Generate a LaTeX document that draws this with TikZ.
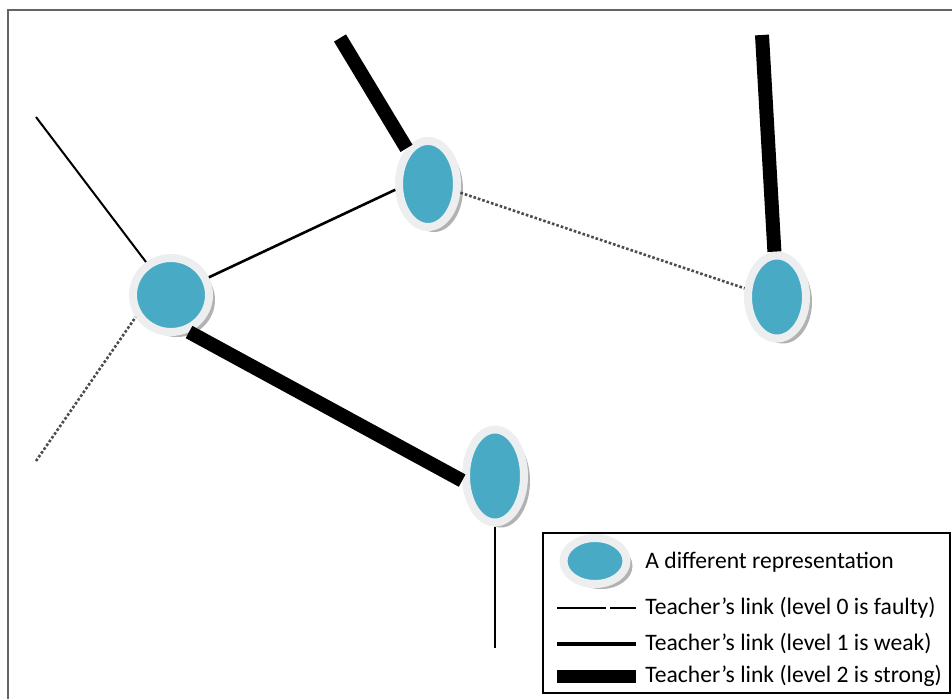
\documentclass[tikz,border=0pt]{standalone}
\usepackage{fontspec}
\setmainfont{Carlito}
\usepackage{tikz}
\definecolor{repblue}{RGB}{72,170,197}
\definecolor{rimgray}{RGB}{236,238,240}
\definecolor{framegray}{RGB}{100,100,100}
\usetikzlibrary{shapes.geometric, shadows}

\begin{document}
\begin{tikzpicture}[x=0.5pt, y=-0.5pt,
				rep/.style={ellipse, fill=repblue, draw=rimgray, line width=4pt, inner sep=0pt,
					drop shadow={shadow xshift=3pt, shadow yshift=-2.5pt, fill=gray!60, opacity=1}},
				faulty/.style={draw=gray!60!black, line width=1.3pt, densely dotted},
				weak/.style={draw=black, line width=1.3pt},
				strong/.style={draw=black, line width=7pt},
				font=\fontsize{11.8}{14}\selectfont]
				%Rahmen
				\useasboundingbox (0,0) rectangle (952,699);
				\draw[framegray, line width=1pt] (8,699) -- (8,10) -- (952,10);
				% Darstellungen
				\node[rep, minimum width=38pt, minimum height=37pt] (A) at (171,295) {};
				\node[rep, minimum width=29pt, minimum height=43pt] (B) at (428,184) {};
				\node[rep, minimum width=29pt, minimum height=41.5pt] (C) at (777,297) {};
				\node[rep, minimum width=29pt, minimum height=46.5pt] (D) at (495,476) {};
				% lose Enden
				\coordinate (Atop) at (36,117);
				\coordinate (Abot) at (36,461);
				\coordinate (Btop) at (340,38);
				\coordinate (Ctop) at (762,35);
				\coordinate (Dbot) at (495,648);
				% Links
				\draw[weak, line width=1pt] (Atop) -- (A);
				\draw[faulty] (Abot) -- (A.212);
				\draw[weak] (A.25) -- (B.190);
				\draw[strong] (A.-64) -- (D.188);
				\draw[strong] (Btop) -- (B);
				\draw[faulty] (B.-15) -- (C.165);
				\draw[strong] (Ctop) -- (C);
				\draw[weak] (Dbot) -- (D);
				% Legende
				\draw[line width=0.7pt] (543,533) rectangle (950,693);
				\node[rep, minimum width=31.5pt, minimum height=23pt] (key) at (595,561) {};
				\node[anchor=west, inner sep=0pt] (t0) at (645,562) {A different representation};
				\node[anchor=west, inner sep=0pt] (t1) at (645,608) {Teacher’s link (level 0 is faulty)};
				\node[anchor=west, inner sep=0pt] (t2) at (645,644) {Teacher’s link (level 1 is weak)};
				\node[anchor=west, inner sep=0pt] (t3) at (645,676) {Teacher’s link (level 2 is strong)};
				\draw[black, line width=1.1pt, dash pattern=on 24.5pt off 2pt on 20pt] (t1.west) ++(-88,0) -- ++(79,0);
				\draw[weak, line width=1.6pt] (t2.west) ++(-88,0) -- ++(79,0);
				\draw[strong, line width=6.5pt] (t3.west) ++(-88,0) -- ++(79,0);
			\end{tikzpicture}
\end{document}
